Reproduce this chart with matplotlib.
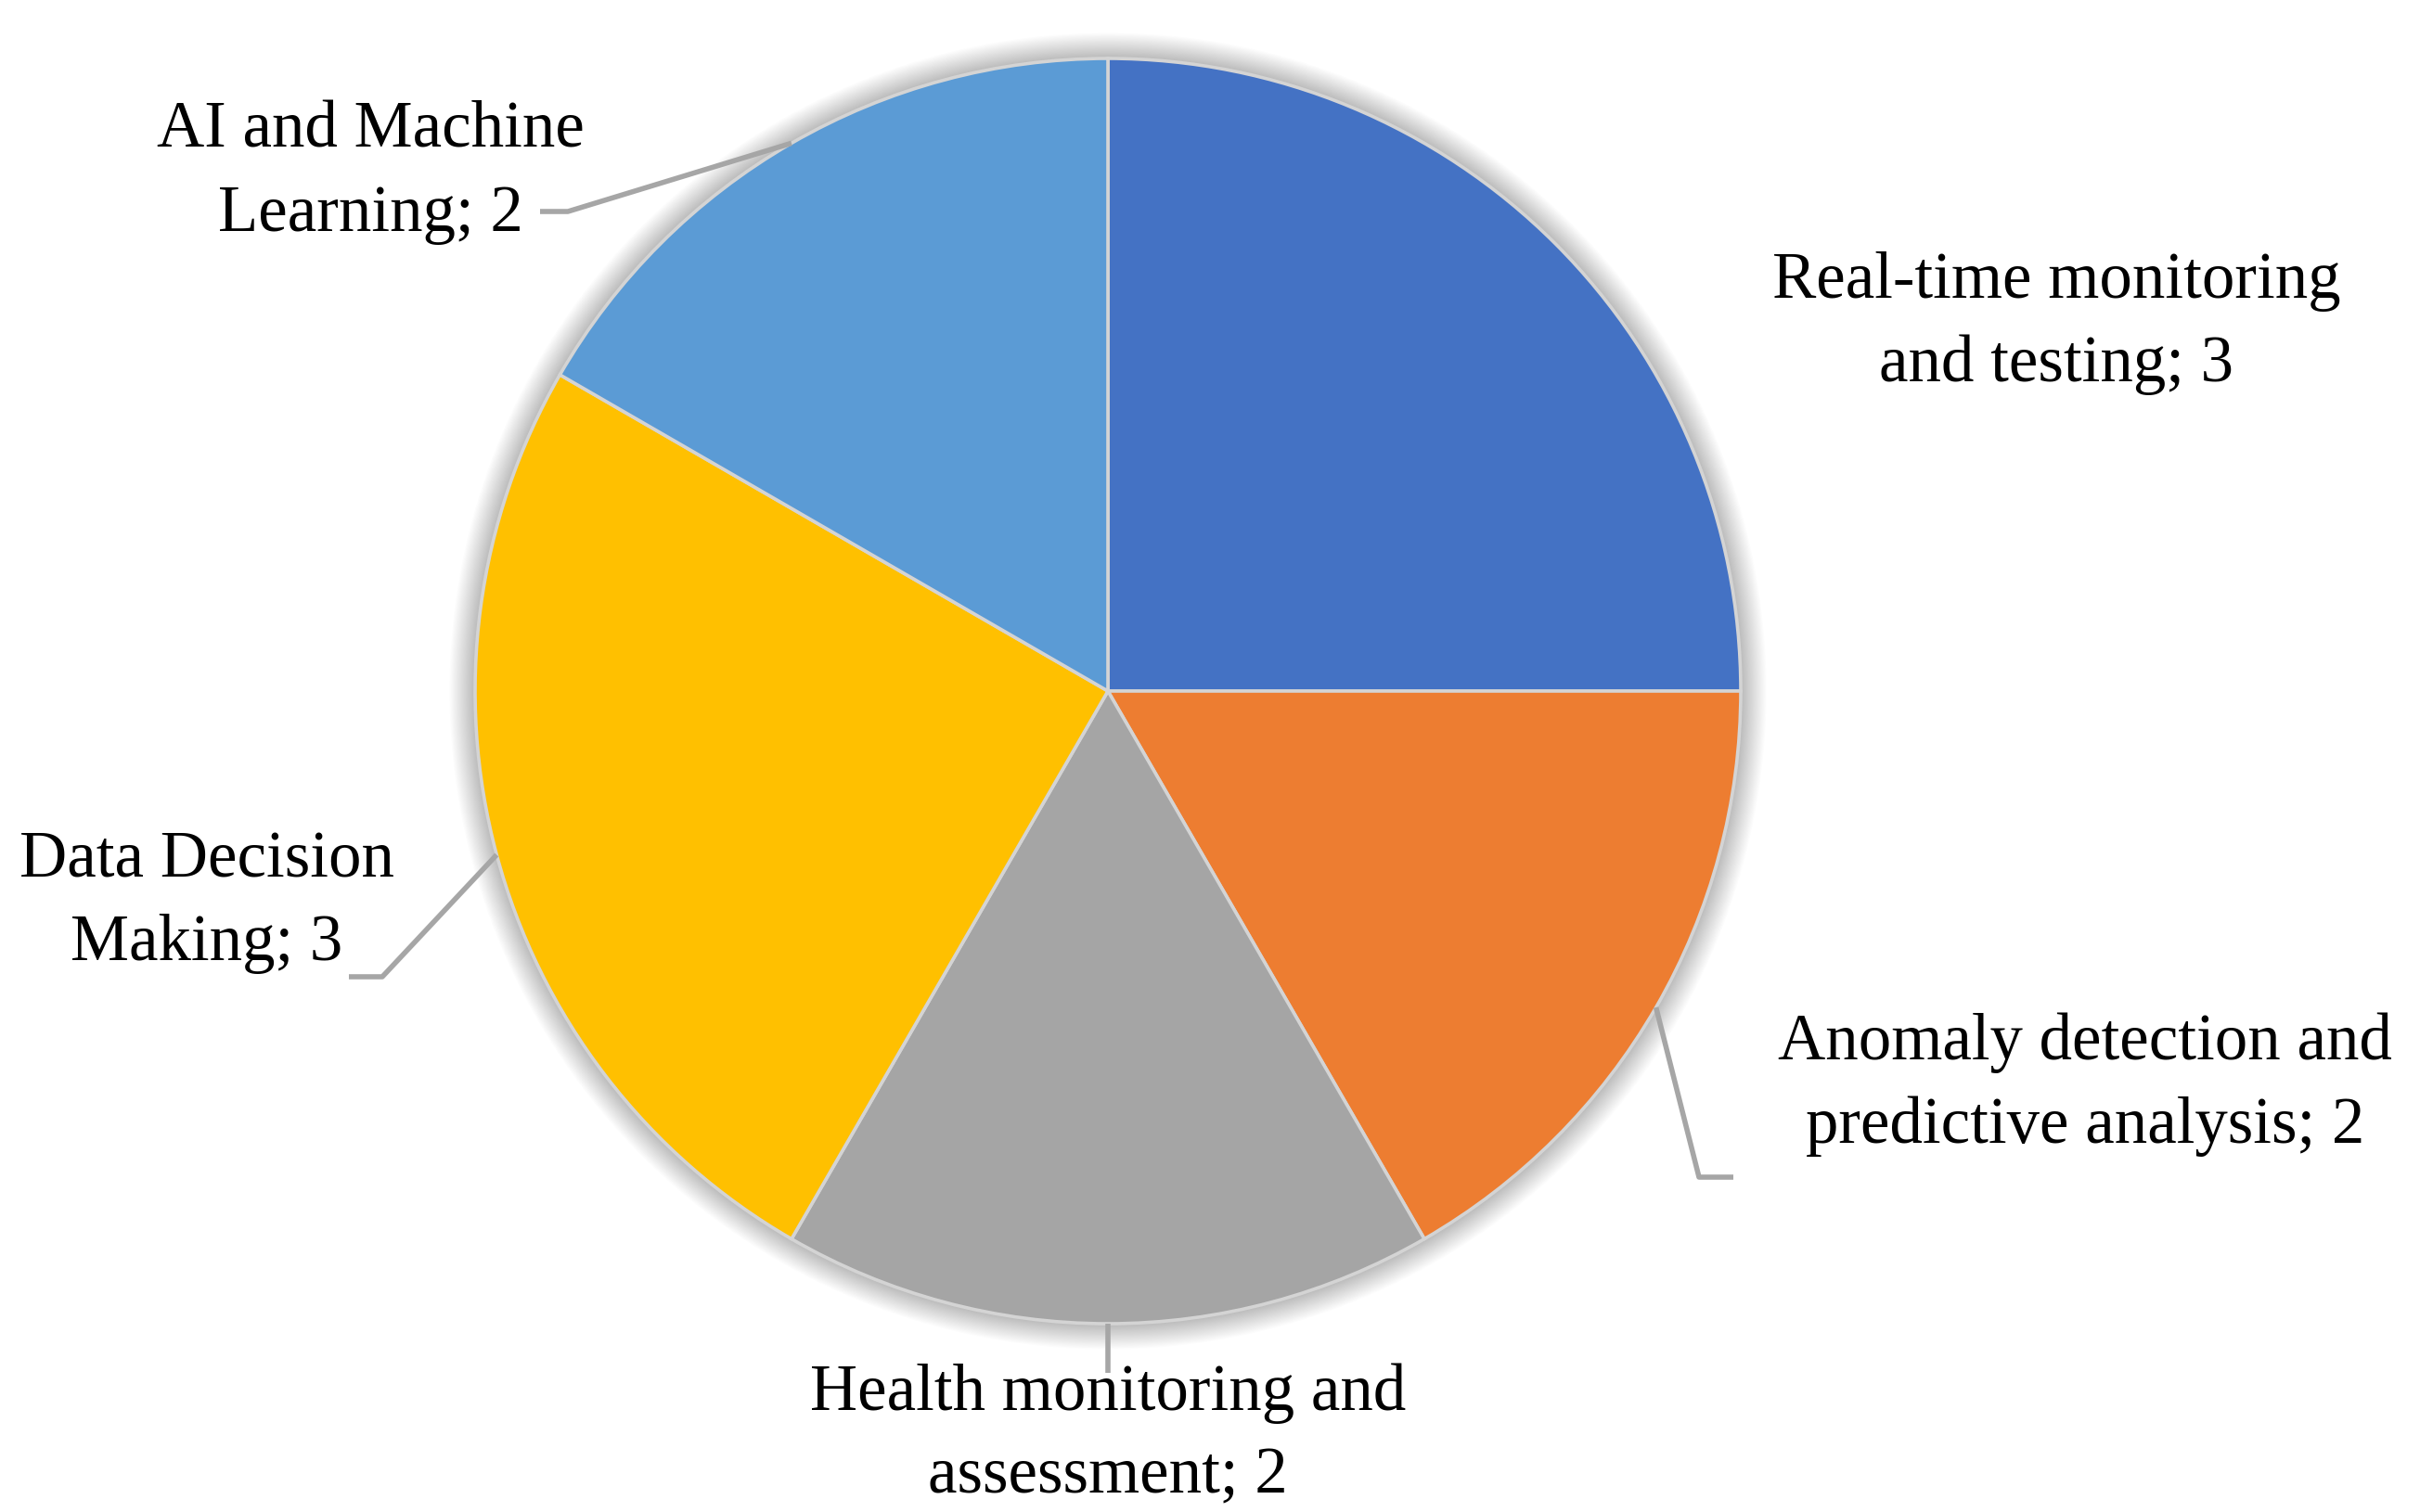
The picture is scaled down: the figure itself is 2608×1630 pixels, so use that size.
import numpy as np
import matplotlib
matplotlib.use("Agg")
import matplotlib.pyplot as plt
from matplotlib.patches import Circle

categories = ["Real-time monitoring\nand testing", "Anomaly detection and\npredictive analysis",
              "Health monitoring and\nassessment", "Data Decision\nMaking", "AI and Machine\nLearning"]
counts = [3, 2, 2, 3, 2]
colors = ["#4472C4", "#ED7D31", "#A5A5A5", "#FFC000", "#5B9BD5"]

W, H = 2608, 1630
cx, cy, R = 1194, H - 745, 682

# label centre (x, y of first line), elbow points of the leader; None = no leader
label_pos = [(2216, 303), (2247, 1124), (1194, 1502), (223, 928), (399, 141)]
elbows = [None, [(1831, 1269), (1868, 1269)], [(1194, 1480)],
          [(412, 1053), (376, 1053)], [(612, 228), (582, 228)]]

fig = plt.figure(figsize=(W / 100, H / 100), dpi=100)
ax = fig.add_axes([0, 0, 1, 1])

# soft shadow
for i in range(24):
    ax.add_patch(Circle((cx, cy), R + 1.2 * i, color="black", alpha=0.013, lw=0, zorder=0))
ax.add_patch(Circle((cx, cy), R, color="white", lw=0, zorder=0.5))

wedges, _ = ax.pie(counts, colors=colors, startangle=90, counterclock=False,
                   center=(cx, cy), radius=R,
                   wedgeprops=dict(edgecolor="#D4D4D4", linewidth=2.6))
for w in wedges:
    w.set_zorder(1)

ax.set_xlim(0, W)
ax.set_ylim(0, H)
ax.set_aspect("equal")
ax.axis("off")

total = sum(counts)
start = 90.0
for name, n, (lx, ly), elb in zip(categories, counts, label_pos, elbows):
    sweep = 360.0 * n / total
    mid = np.deg2rad(start - sweep / 2)
    start -= sweep
    lines = f"{name}; {n}".split("\n")
    for k, line in enumerate(lines):
        ax.text(lx, H - ly - 90 * k, line, ha="center", va="center", fontsize=51,
                family="Liberation Serif", color="black")
    if elb:
        xs = [cx + R * np.cos(mid)] + [p[0] for p in elb]
        ys = [cy + R * np.sin(mid)] + [H - p[1] for p in elb]
        ax.plot(xs, ys, color="#A6A6A6", lw=4, solid_capstyle="butt", zorder=2)

fig.savefig("out.png", dpi=100, facecolor="white")
